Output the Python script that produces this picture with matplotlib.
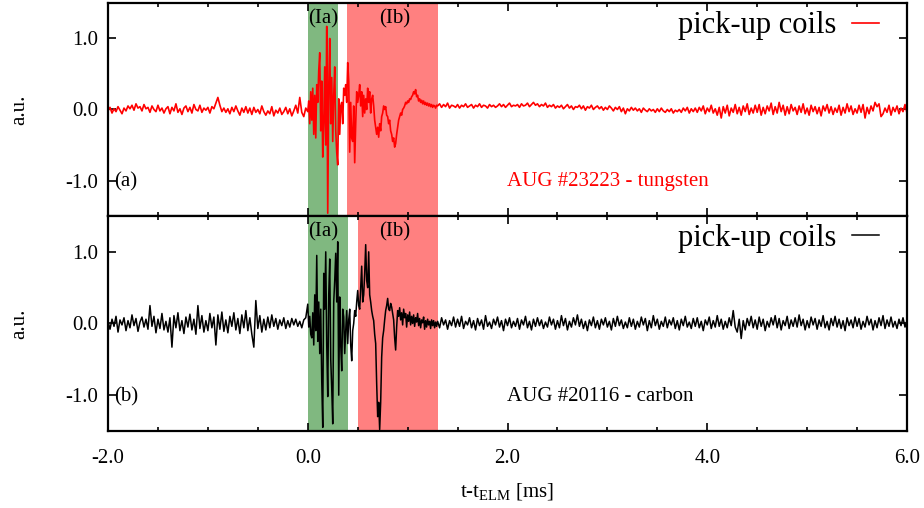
import numpy as np
import matplotlib
matplotlib.use("Agg")
import matplotlib.pyplot as plt
from matplotlib.ticker import MultipleLocator, FormatStrFormatter

plt.rcParams['font.family'] = ['Liberation Serif', 'DejaVu Serif']
plt.rcParams['mathtext.fontset'] = 'custom'
plt.rcParams['mathtext.rm'] = 'Liberation Serif'

# segnali in centesimi di a.u.
# tratto prima dell'ELM: t = -2.00 ... -0.02, passo 0.02 ms
w_pre = [-2, 3, -5, 1, -3, 4, -1, -6, 2, -2,
         5, 1, 6, -1, 8, 2, 4, -2, 7, 1,
         3, -4, 5, 0, -3, 6, -2, 2, -5, 1,
         4, -6, 3, -2, 8, -4, 1, -7, 2, 5,
         -3, 3, -5, 7, 0, -2, 6, -4, 2, -1,
         3, -5, 4, 1, 9, 17, 6, -3, 2, -4,
         1, -6, 3, -3, 5, -2, -8, 2, -4, 4,
         -5, 2, -7, 3, -4, 0, -6, 5, -3, -8,
         -2, -6, 4, -9, -1, -5, 2, -7, -3, 3,
         -6, 1, -9, -2, 6, -5, 17, -4, -10, 2]
# ELM: t = 0.00 ... 1.29, passo 0.01 ms
w_elm = [-3, 12, -20, 25, -15, 30, -35, 20, -40, 35,
         10, 55, 80, -30, 40, -67, -20, 60, -50, 117,
         -146, 30, 100, -20, 45, -45, 20, 60, -30, -60,
         -78, 15, -35, 5, 10, -20, 30, 20, 35, 10,
         66, 40, -60, 10, -40, -45, 5, -75, -20, 25,
         10, 20, 35, 5, 25, -10, 20, -5, 15, 0,
         30, 10, 25, -5, 15, 20, 5, -15, -25, -35,
         -25, -39, -20, -30, -10, -5, 5, 0, 4, -8,
         -10, -20, -15, -30, -35, -45, -40, -53, -48, -35,
         -25, -15, -10, -5, -8, 0, 2, 5, 10, 8,
         12, 10, 15, 14, 18, 20, 25, 22, 28, 18,
         20, 12, 15, 10, 13, 8, 12, 7, 10, 6,
         9, 5, 8, 4, 7, 3, 6, 5, 2, 6]
# dopo l'ELM: t = 1.30 ... 6.00, passo 0.02 ms
w_post = [5, 8, 3, 7, 4, 9, 2, 6, 5, 3,
          7, 2, 6, 4, 8, 3, 5, 7, 2, 6,
          4, 8, 3, 6, 5, 2, 7, 4, 6, 3,
          5, 8, 4, 7, 3, 6, 9, 4, 6, 5,
          7, 3, 8, 5, 6, 9, 4, 7, 10, 6,
          8, 4, 7, 5, 9, 3, 6, 4, 7, 2,
          5, 3, 6, 1, 4, 7, 2, 5, 0, 4,
          3, 6, 1, 5, -1, 4, 2, 6, 0, 3,
          5, 1, 4, -1, 3, 0, 5, 2, -2, 3,
          0, 4, -3, 2, -6, 1, -2, 3, -1, 2,
          -2, 1, -4, 2, -1, -3, 1, -2, 0, -4,
          1, -3, 2, -2, -4, 0, -3, 1, -5, -1,
          -3, 0, -4, 2, -2, 3, -5, 1, -3, 2,
          -4, 3, -2, 5, -6, 2, -3, 6, -5, 1,
          -8, 3, -12, 4, -5, 6, -9, 2, -4, 7,
          -6, 3, -8, 5, -3, 8, -7, 2, -5, 6,
          -4, 7, -8, 3, -6, 5, -2, 9, -7, 4,
          -5, 10, -3, 6, -8, 4, -6, 7, -2, 3,
          -7, 5, -4, 8, -6, 2, -8, 6, -3, 4,
          -6, 3, -9, 5, -2, 7, -5, 4, -7, 2,
          -4, 6, -8, 3, -5, 8, -3, 5, -7, 1,
          -5, 6, -4, 7, -12, 3, -6, 5, -2, 10,
          4, 8, -10, -6, 2, -4, 6, -8, 3, -3,
          5, -6, 2, -3, 7, -5]

c_pre = [3, -8, 6, -4, 10, -12, 5, -2, 8, -10,
         4, -6, 12, -3, 7, -11, 2, 9, -5, 6,
         -8, 25, -4, 10, -13, 6, -7, 14, -9, 3,
         -12, 8, -33, 11, -6, 15, -10, 4, -14, 9,
         -5, 13, -9, 6, -15, 25, -7, 11, -12, 4,
         -10, 14, -6, 9, -30, 12, -8, 16, -11, 5,
         -13, 10, -4, 15, -9, 7, -14, 12, -6, 18,
         -10, 8, -15, -33, 32, -7, 11, -12, 6, -9,
         9, -6, 12, -4, 7, -8, 5, -3, 8, -7,
         4, -5, 7, -2, 6, -4, 3, -6, 5, 8]
c_elm = [27, -5, 10, -15, -20, 15, -30, 40, -10, 95,
         -25, 30, -42, 20, -80, -145, 70, 20, 100, -30,
         -102, 40, 90, -50, -90, -140, 30, 60, 98, 30,
         114, -100, 37, -30, -66, 20, 9, -42, -10, 18,
         -28, 5, 20, -30, -52, -10, 0, 18, 10, 30,
         46, 25, 20, 50, 80, 30, 40, 70, 110, 60,
         50, 100, 40, 30, 18, 10, 4, -15, -28, -84,
         -130, -110, -148, -110, -47, -20, -10, 5, 18, 25,
         35, 20, 18, 28, 23, 14, 5, -20, -37, -5,
         18, 10, 22, 5, 15, -2, 20, 8, 14, -5,
         12, 3, 16, -2, 10, 0, 12, -4, 8, 2,
         14, -3, 7, -6, 5, 1, 9, -8, 4, -5,
         6, -2, 3, -7, 5, -3, 4, -6, 2, -4]
c_post = [3, -6, 8, -2, 5, -8, 4, -3, 9, -5,
          6, -4, 10, -7, 3, -2, 8, -6, 4, -9,
          7, -3, 5, -8, 11, -4, 2, -7, 6, -2,
          9, -5, 4, -10, 6, -3, 8, -6, 3, -4,
          7, -8, 5, -2, 10, -6, 3, -9, 6, -4,
          8, -3, 5, -7, 2, -5, 9, -2, 6, -8,
          4, -6, 11, -3, 7, -9, 3, -5, 8, -2,
          12, -4, 6, -7, 3, -10, 5, -3, 9, -6,
          4, -8, 6, -2, 8, -5, 3, -9, 7, -4,
          10, -3, 5, -7, 2, -6, 8, -4, 6, -8,
          3, -5, 9, -2, 7, -10, 4, -6, 11, -3,
          6, -8, 3, -4, 9, -6, 5, -2, 8, -7,
          4, -9, 6, -3, 10, -5, 2, -7, 7, -4,
          8, -6, 3, -10, 5, -2, 9, -7, 4, -5,
          11, -4, 6, -8, 3, -6, 8, -3, 18, -5,
          -12, 6, -21, 4, -9, 7, -3, 10, -6, 5,
          -8, 9, -4, 6, -10, 3, -5, 8, -2, 11,
          -6, 7, -9, 4, -3, 10, -7, 5, -4, 8,
          -5, 12, -3, 6, -9, 4, -6, 9, -2, 7,
          -8, 5, -4, 11, -6, 3, -9, 7, -3, 10,
          -5, 6, -7, 4, -10, 8, -3, 5, -6, 9,
          -4, 7, -8, 3, -5, 10, -2, 6, -9, 4,
          -6, 8, -3, 11, -7, 5, -4, 9, -5, 3,
          -7, 6, -3, 8, -5, 4]

# fasi (Ia) e (Ib) in ms
fasi_w = [(0.0, 0.30), (0.39, 1.30)]
fasi_c = [(0.0, 0.40), (0.50, 1.30)]


def tempi(v_pre, v_elm, v_post):
    t = np.concatenate([-2.0 + 0.02 * np.arange(len(v_pre)),
                        0.01 * np.arange(len(v_elm)),
                        1.30 + 0.02 * np.arange(len(v_post))])
    y = np.array(v_pre + v_elm + v_post) / 100.0
    return t, y


def pannello(ax, t, y, colore, fasi, lettera, scarica, lw):
    ax.axvspan(fasi[0][0], fasi[0][1], color='#80b880', lw=0, zorder=0)
    ax.axvspan(fasi[1][0], fasi[1][1], color='#ff8080', lw=0, zorder=0)
    ax.plot(t, y, color=colore, lw=lw, label='pick-up coils', zorder=2)
    ax.set_xlim(-2.0, 6.0)
    ax.set_ylim(-1.5, 1.5)
    ax.xaxis.set_major_locator(MultipleLocator(2.0))
    ax.xaxis.set_minor_locator(MultipleLocator(0.5))
    ax.yaxis.set_major_locator(MultipleLocator(1.0))
    ax.xaxis.set_major_formatter(FormatStrFormatter('%.1f'))
    ax.yaxis.set_major_formatter(FormatStrFormatter('%.1f'))
    ax.tick_params(which='both', direction='in', top=True, right=True,
                   labelsize=15, width=1.2)
    ax.tick_params(axis='x', pad=13)
    ax.tick_params(axis='y', pad=7)
    ax.tick_params(which='major', length=6)
    ax.tick_params(which='minor', length=3)
    for s in ax.spines.values():
        s.set_linewidth(1.6)
    ax.set_ylabel('a.u.', fontsize=15, labelpad=26)
    ax.text(0.15, 1.28, '(Ia)', fontsize=15, ha='center', va='center')
    ax.text(0.87, 1.28, '(Ib)', fontsize=15, ha='center', va='center')
    ax.text(-1.94, -1.02, lettera, fontsize=15, ha='left', va='center')
    ax.text(1.99, -1.02, scarica, fontsize=15, ha='left', va='center',
            color=colore)
    ax.legend(loc='upper right', bbox_to_anchor=(1.0, 1.09), frameon=False,
              fontsize=22, markerfirst=False, handlelength=0.9,
              handletextpad=0.5, borderaxespad=0.9, borderpad=0.0)


fig = plt.figure(figsize=(9.24, 5.08), dpi=100)
ax1 = fig.add_axes([0.1169, 0.5748, 0.8647, 0.4193])
ax2 = fig.add_axes([0.1169, 0.1516, 0.8647, 0.4232])

tw, yw = tempi(w_pre, w_elm, w_post)
tc, yc = tempi(c_pre, c_elm, c_post)

pannello(ax1, tw, yw, '#ff0000', fasi_w, '(a)', 'AUG #23223 - tungsten', 1.2)
pannello(ax2, tc, yc, '#000000', fasi_c, '(b)', 'AUG #20116 - carbon', 1.1)
ax1.tick_params(labelbottom=False)
ax2.set_xlabel(r't-t$_{\mathrm{ELM}}$ [ms]', fontsize=15, labelpad=10)

fig.savefig('out.png', dpi=100)
